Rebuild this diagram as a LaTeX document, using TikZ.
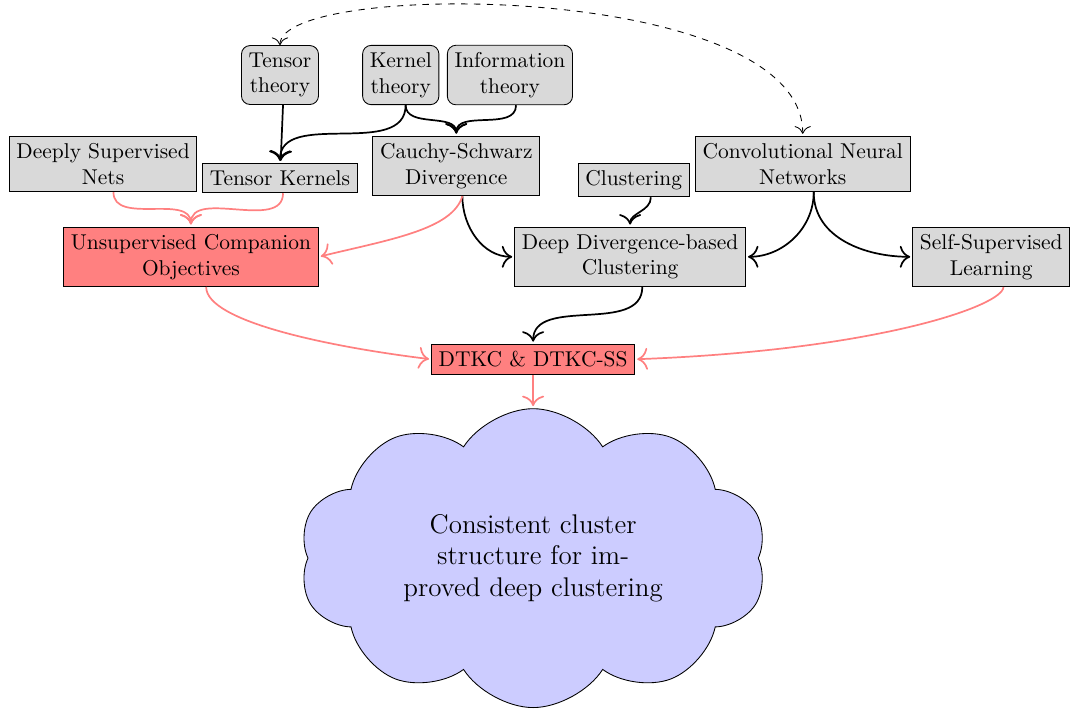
\documentclass[tikz,border=0pt]{standalone}
\usepackage[dvipsnames]{xcolor}
\usetikzlibrary{positioning,shapes.symbols,arrows.meta}

\begin{document}
\begin{tikzpicture}[->,>={To[scale=1.45]},shorten >=1pt,auto,thick,
    box/.style={draw,thin,fill=gray!30,align=center},
    theory/.style={box,rounded corners},
    goal/.style={draw,thin,fill=red!50,align=center},
    idea/.style={draw,thin,fill=blue!20,cloud,cloud puffs=10,cloud puff arc=115,cloud ignores aspect,align=center,font=\fontsize{12.6}{14.6}\selectfont,minimum width=7.67cm,minimum height=4.9cm},
    soft/.style={red!50}]

    \useasboundingbox (0,0) rectangle (17.64,-11.66);

                    \node[theory] (tensortheory) at (4.59,-1.23) {Tensor\\theory};
                    \node[theory] (kerneltheory) [node distance=1.98cm, right of=tensortheory] {Kernel\\theory};
                    \node[theory] (infotheory) [node distance=1.79cm, right of=kerneltheory] {Information\\theory};
                    \node[box] (tensorkernels) [node distance=1.69cm, below of=tensortheory] {Tensor Kernels};
                    \node[box] (dsn) [node distance=2.9cm, left of=tensorkernels, yshift=0.23cm] {Deeply Supervised\\Nets};
                    \node[box] (cs) [node distance=1.49cm, below of=kerneltheory, xshift=0.91cm] {Cauchy-Schwarz\\Divergence};
                    \node[box] (clustering) [node distance=2.91cm, right of=cs, yshift=-0.23cm] {Clustering};
                    \node[box] (cnn) [node distance=2.77cm, right of=clustering, yshift=0.26cm] {Convolutional Neural\\Networks};
                    \node[goal] (uco) [node distance=1.52cm, below of=dsn, xshift=1.44cm] {Unsupervised Companion\\Objectives};
                    \node[box] (ddc) [node distance=1.26cm, below of=clustering, xshift=-0.06cm] {Deep Divergence-based\\Clustering};
                    \node[box] (ssl) [node distance=5.92cm, right of=ddc] {Self-Supervised\\Learning};
                    \node[goal] (dtkc) [node distance=1.68cm, below of=ddc, xshift=-1.59cm] {DTKC \& DTKC-SS};
                    \node[idea] (result) [node distance=3.26cm, below of=dtkc] {Consistent cluster\\structure for im-\\proved deep clustering};

                    \path
                        ([xshift=0.05cm]tensortheory.south) edge (tensorkernels)
                        ([xshift=0.08cm]kerneltheory.south) edge[out=-90,in=90] (tensorkernels)
                        ([xshift=0.08cm]kerneltheory.south) edge[out=-90,in=90] (cs)
                        ([xshift=0.1cm]infotheory.south) edge[out=-90,in=90] (cs)
                        ([xshift=0.1cm]cs.south) edge[out=-90,in=180] (ddc.west)
                        ([xshift=0.28cm]clustering.south) edge[out=-90,in=90] (ddc)
                        ([xshift=0.18cm]cnn.south) edge[out=-90,in=0] (ddc.east)
                        ([xshift=0.18cm]cnn.south) edge[out=-90,in=180] (ssl.west)
                        ([xshift=0.2cm]ddc.south) edge[out=-90,in=90] (dtkc)
                        ;

                    % dashed link between the two theory sides
                    \draw[<->,dashed,thin] (tensortheory.north) .. controls +(0,1.07) and +(0,2.54) .. (cnn.north);

                    \path[soft]
                        ([xshift=0.17cm]dsn.south) edge[out=-90,in=90] (uco)
                        ([xshift=0.05cm]tensorkernels.south) edge[out=-90,in=90] (uco)
                        (dtkc) edge (result)
                        ;
                    \draw[soft] ([xshift=0.1cm]cs.south) .. controls +(-0.16,-0.55) and +(1.15,0.28) .. (uco.east);
                    \draw[soft] ([xshift=0.25cm]uco.south) .. controls +(0,-0.57) and +(-1.64,0.2) .. (dtkc.west);
                    \draw[soft] ([xshift=0.2cm]ssl.south) .. controls +(0,-0.3) and +(4,0.15) .. (dtkc.east);
                \end{tikzpicture}
\end{document}
